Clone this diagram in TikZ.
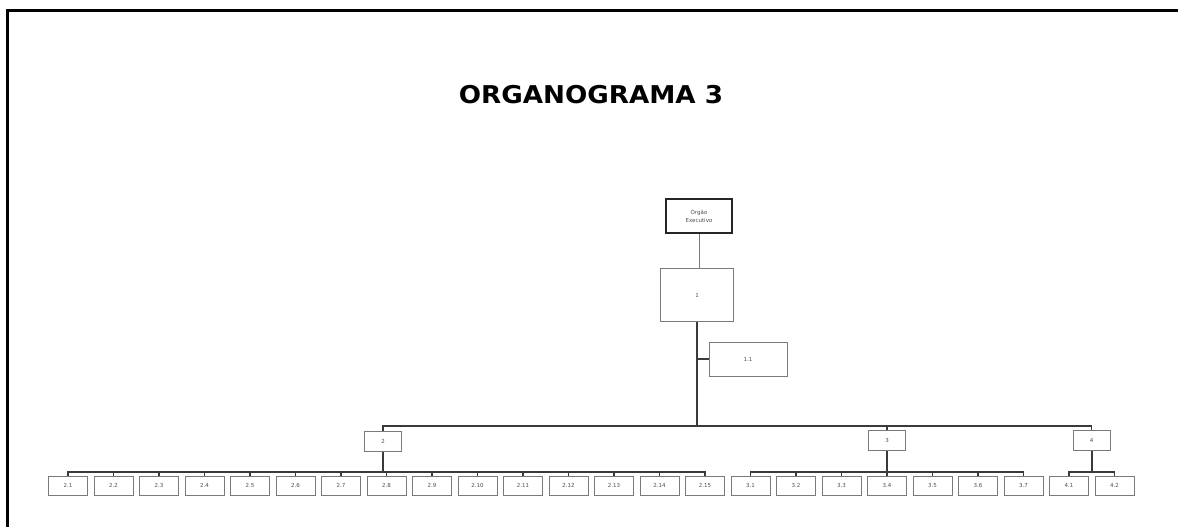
\documentclass[tikz,border=0pt]{standalone}
\usepackage{fontspec}
\setmainfont{DejaVu Sans}
\usetikzlibrary{positioning,calc}
\definecolor{boxgray}{HTML}{7A7A7A}
\definecolor{linegray}{HTML}{3A3A3A}
\definecolor{labelgray}{HTML}{505050}
\tikzset{
  box/.style={draw=boxgray,line width=1pt,fill=white,align=center,inner sep=0pt,text=labelgray,font=\fontsize{5.5}{6.5}\selectfont},
  headbox/.style={box,draw=black!85,line width=1.6pt,minimum width=66pt,minimum height=34pt},
  unitbox/.style={box,minimum width=73pt,minimum height=53pt},
  subbox/.style={box,minimum width=78pt,minimum height=34pt},
  midbox/.style={box,minimum width=37pt,minimum height=20pt},
  leafbox/.style={box,minimum width=39pt,minimum height=19pt},
  thinlink/.style={draw=boxgray,line width=1pt},
  trunk/.style={draw=linegray,line width=2pt},
  bus/.style={draw=linegray,line width=1.6pt},
  tick/.style={draw=linegray,line width=1.1pt}
}
\begin{document}
\begin{tikzpicture}[x=1pt,y=-1pt]
  \useasboundingbox (0,0) rectangle (1178,527);
  % frame and title
  \draw[line width=3pt] (7.3,540) -- (7.3,11) -- (1190,11);
  \node[font=\bfseries\fontsize{24.5}{28}\selectfont] (title) at (591,95) {\scalebox{1.07}[1]{ORGANOGRAMA 3}};
  % upper levels
  \node[headbox] (exec) at (699,216) {Órgão\\[1pt]Executivo};
  \node[unitbox] (u1) at (697,295) {1};
  \node[subbox] (u11) at (748,359) {1.1};
  \node[midbox] (u2) at (383,441) {2};
  \node[midbox] (u3) at (887,440.5) {3};
  \node[midbox] (u4) at (1091.5,440) {4};
  \coordinate (busA) at (0,426);
  \coordinate (busB) at (0,472);
  \draw[thinlink] (exec.south) -- (exec.south |- u1.north);
  \draw[trunk] (u1.south) -- (u1.south |- busA);
  \draw[tick] (u11.west) -- (u11.west -| u1.south);
  \draw[bus] (u2.north) |- (busA -| u4.north) -- (u4.north);
  \draw[tick] (u3.north) -- (u3.north |- busA);
  % leaf boxes
  \foreach \k in {1,...,15}
    \node[leafbox] (l2-\k) at ({68+45.5*(\k-1)},485.5) {2.\k};
  \foreach \k in {1,...,7}
    \node[leafbox] (l3-\k) at ({68+45.5*(14+\k)},485.5) {3.\k};
  \foreach \k in {1,2}
    \node[leafbox] (l4-\k) at ({68+45.5*(21+\k)},485.5) {4.\k};
  % lower buses
  \draw[bus] (l2-1.north) |- (busB -| l2-15.north) -- (l2-15.north);
  \draw[bus] (l3-1.north) |- (busB -| l3-7.north) -- (l3-7.north);
  \draw[bus] (l4-1.north) |- (busB -| l4-2.north) -- (l4-2.north);
  \foreach \k in {2,...,14}
    \draw[tick] (l2-\k.north) -- (l2-\k.north |- busB);
  \foreach \k in {2,...,6}
    \draw[tick] (l3-\k.north) -- (l3-\k.north |- busB);
  \draw[trunk] (u2.south) -- (u2.south |- busB);
  \draw[trunk] (u3.south) -- (u3.south |- busB);
  \draw[trunk] (u4.south) -- (u4.south |- busB);
\end{tikzpicture}
\end{document}
